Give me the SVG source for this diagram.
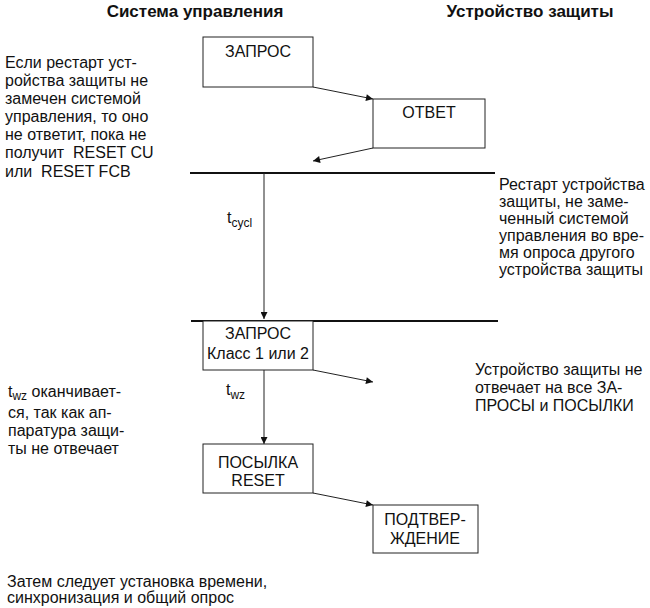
<svg xmlns="http://www.w3.org/2000/svg" width="650" height="608" viewBox="0 0 650 608">
<defs>
<marker id="ah" viewBox="0 0 10 10" refX="10" refY="5" markerWidth="9" markerHeight="7" markerUnits="userSpaceOnUse" orient="auto">
<path d="M0,0 L10,5 L0,10 z" fill="#111"/>
</marker>
</defs>
<style>
text{font-family:"Liberation Sans",Arial,sans-serif;font-size:16px;fill:#111}
.h{font-weight:bold;font-size:17px}
.c{text-anchor:middle}
.box{fill:#fff;stroke:#222;stroke-width:1}
.ln{stroke:#222;stroke-width:1;fill:none}
.bar{stroke:#111;stroke-width:2;fill:none}
.sub{font-size:12px}
</style>
<rect width="650" height="608" fill="#fff"/>
<g id="headers">
<text class="h c" x="195" y="17">Система управления</text>
<text class="h c" x="530" y="17">Устройство защиты</text>
</g>
<g id="connectors">
<line class="bar" x1="190" y1="173" x2="495" y2="173"/>
<line class="bar" x1="191" y1="321" x2="498" y2="321"/>
<line class="ln" x1="313" y1="87" x2="373" y2="99" marker-end="url(#ah)"/>
<line class="ln" x1="373" y1="148" x2="313" y2="161" marker-end="url(#ah)"/>
<line class="ln" x1="264" y1="173" x2="264" y2="319" marker-end="url(#ah)"/>
<line class="ln" x1="313" y1="370" x2="373" y2="382" marker-end="url(#ah)"/>
<line class="ln" x1="264" y1="370" x2="264" y2="444" marker-end="url(#ah)"/>
<line class="ln" x1="313" y1="493" x2="373" y2="505" marker-end="url(#ah)"/>
<text x="227" y="223">t<tspan class="sub" dy="4">cycl</tspan></text>
<text x="226" y="395">t<tspan class="sub" dy="4">wz</tspan></text>
</g>
<g id="zapros1">
<rect class="box" x="203" y="37" width="110" height="50"/>
<text class="c" x="258" y="57">ЗАПРОС</text>
</g>
<g id="otvet">
<rect class="box" x="373" y="99" width="112" height="49"/>
<text class="c" x="429" y="118">ОТВЕТ</text>
</g>
<g id="zapros2">
<rect class="box" x="203" y="321" width="110" height="49"/>
<text class="c" x="258" y="339">ЗАПРОС</text>
<text class="c" x="258" y="359">Класс 1 или 2</text>
</g>
<g id="posylka">
<rect class="box" x="203" y="444" width="110" height="49"/>
<text class="c" x="258" y="468">ПОСЫЛКА</text>
<text class="c" x="258" y="486">RESET</text>
</g>
<g id="podtverzhdenie">
<rect class="box" x="373" y="505" width="105" height="48"/>
<text class="c" x="425" y="525">ПОДТВЕР-</text>
<text class="c" x="425" y="544">ЖДЕНИЕ</text>
</g>
<g id="note-left-1">
<text x="5" y="68">Если рестарт уст-</text>
<text x="5" y="86">ройства защиты не</text>
<text x="5" y="104">замечен системой</text>
<text x="5" y="122">управления, то оно</text>
<text x="5" y="140">не ответит, пока не</text>
<text x="5" y="158">получит &#160;RESET CU</text>
<text x="5" y="177">или &#160;RESET FCB</text>
</g>
<g id="note-right-1">
<text x="499" y="190">Рестарт устройства</text>
<text x="499" y="207">защиты, не заме-</text>
<text x="499" y="224">ченный системой</text>
<text x="499" y="241">управления во вре-</text>
<text x="499" y="258">мя опроса другого</text>
<text x="499" y="275">устройства защиты</text>
</g>
<g id="note-right-2">
<text x="475" y="375">Устройство защиты не</text>
<text x="475" y="393">отвечает на все ЗА-</text>
<text x="475" y="411">ПРОСЫ и ПОСЫЛКИ</text>
</g>
<g id="note-left-2">
<text x="8" y="397">t<tspan class="sub" dy="3">wz</tspan><tspan dy="-3"> оканчивает-</tspan></text>
<text x="8" y="418">ся, так как ап-</text>
<text x="8" y="436">паратура защи-</text>
<text x="8" y="454">ты не отвечает</text>
</g>
<g id="note-bottom">
<text x="7" y="587">Затем следует установка времени,</text>
<text x="7" y="603">синхронизация и общий опрос</text>
</g>
</svg>
